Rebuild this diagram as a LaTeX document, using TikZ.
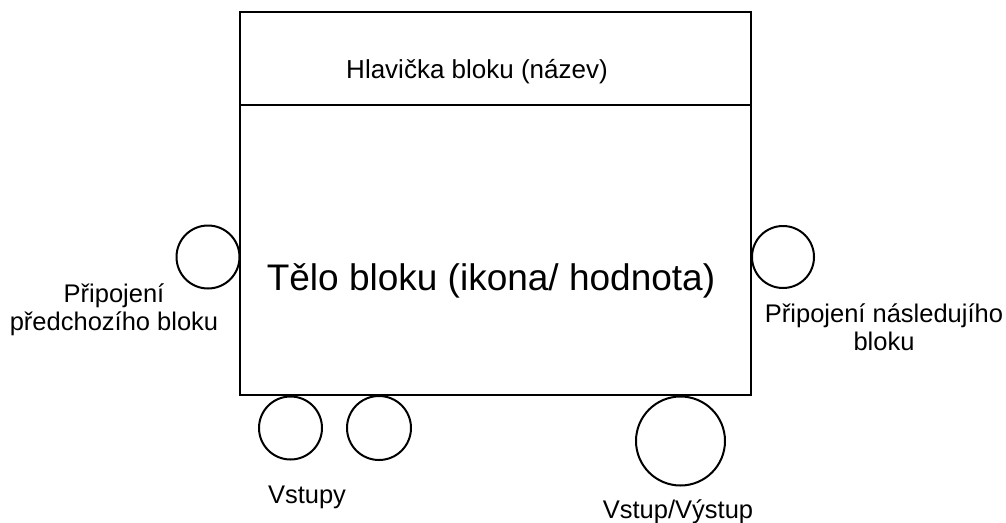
\documentclass[tikz,border=0pt]{standalone}
\usepackage{fontspec}
\setmainfont{Liberation Sans}
\usetikzlibrary{positioning}

\begin{document}
\begin{tikzpicture}[x=1pt, y=-1pt,
  port/.style={draw, circle, line width=2pt, inner sep=0pt},
  lbl/.style={anchor=base, align=center, font=\fontsize{25.5}{28}\selectfont}]
  \useasboundingbox (0,0) rectangle (1006,522);

  % the block itself, header split off by a line
  \node [draw, line width=2pt, minimum width=511pt, minimum height=383pt, inner sep=0pt] (blok) at (495.5, 203.5) {};
  \draw [line width=2pt] (blok.west |- 0,105) to (blok.east |- 0,105);
  \node [lbl, font=\fontsize{26}{30}\selectfont] (hlavicka) at (477, 78) {Hlavička bloku (název)};
  \node [anchor=base, font=\fontsize{37}{44}\selectfont] (telo) at (491, 290) {Tělo bloku (ikona/ hodnota)};

  % connection points
  \node [port, minimum size=63pt] (pred) at (208, 257) {};
  \node [port, minimum size=62pt] (nasl) at (783, 257) {};
  \node [port, minimum size=63pt] (vstup1) at (290.5, 428) {};
  \node [port, minimum size=64pt] (vstup2) at (379, 428) {};
  \node [port, minimum size=89pt] (vystup) at (680.5, 441) {};

  % base sits on the last line
  \node [lbl] (predlbl) at (114, 330) {Připojení\\předchozího bloku};
  \node [lbl] (nasllbl) at (884, 350) {Připojení následujího\\bloku};
  \node [lbl] (vstuplbl) at (307, 503) {Vstupy};
  \node [lbl] (vystuplbl) at (678, 518) {Vstup/Výstup};

\end{tikzpicture}
\end{document}
